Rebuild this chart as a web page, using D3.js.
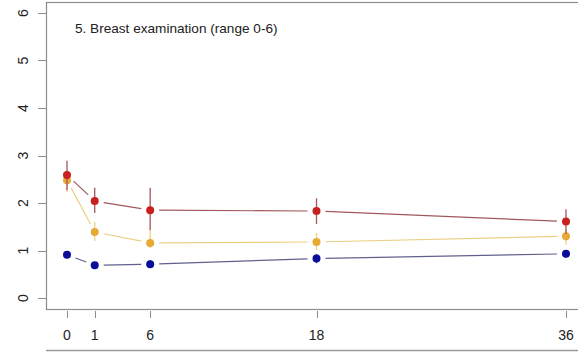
<!DOCTYPE html>
<html>
<head>
<meta charset="utf-8">
<script src="https://cdn.jsdelivr.net/npm/d3@7"></script>
<style>
  body { margin: 0; background: #fff; }
  svg text { font-family: "Liberation Sans", Arial, sans-serif; fill: #222; }
</style>
</head>
<body>
<div id="chart"></div>
<script>
// months of follow-up (labels) and where they sit on the axis
var timeLabels = ["0", "1", "6", "18", "36"];
var timePos = [0, 2, 6, 18, 36];
var yTicks = [0, 1, 2, 3, 4, 5, 6];

// mean score and error bar ends per group
var redMean = [2.59, 2.04, 1.85, 1.83, 1.61];
var redLow = [2.27, 1.79, 1.43, 1.56, 1.35];
var redHigh = [2.89, 2.32, 2.32, 2.10, 1.87];

var yellowMean = [2.48, 1.39, 1.16, 1.18, 1.30];
var yellowLow = [2.23, 1.20, 1.05, 1.01, 1.12];
var yellowHigh = [2.70, 1.60, 1.45, 1.37, 1.45];

var blueMean = [0.91, 0.69, 0.71, 0.83, 0.93];
var blueLow = [0.85, 0.64, 0.64, 0.73, 0.85];
var blueHigh = [0.97, 0.75, 0.80, 0.93, 1.00];

var title = "5. Breast examination (range 0-6)";

var W = 578, H = 352;
var box = { left: 46, top: 2, right: 590, bottom: 309 };

var svg = d3.select("#chart").append("svg")
    .attr("width", W)
    .attr("height", H);

var x = d3.scaleLinear().domain([0, 36]).range([67, 566]);
var y = d3.scaleLinear().domain([0, 6]).range([298, 13]);

// plot frame
svg.append("rect")
    .attr("x", box.left + 0.5).attr("y", box.top + 0.5)
    .attr("width", box.right - box.left).attr("height", box.bottom - box.top)
    .attr("fill", "none").attr("stroke", "#8c8c8c").attr("stroke-width", 1.2);

// top of the next panel peeking in at the bottom
svg.append("line")
    .attr("x1", box.left).attr("x2", W)
    .attr("y1", 350.5).attr("y2", 350.5)
    .attr("stroke", "#9a9a9a").attr("stroke-width", 1.5);

// y axis (R style: ticks outside, rotated labels)
var yAxis = svg.append("g");
yAxis.selectAll("line").data(yTicks).enter().append("line")
    .attr("x1", 38).attr("x2", box.left)
    .attr("y1", function(d) { return Math.round(y(d)) + 0.5; })
    .attr("y2", function(d) { return Math.round(y(d)) + 0.5; })
    .attr("stroke", "#8c8c8c");
yAxis.selectAll("text").data(yTicks).enter().append("text")
    .attr("transform", function(d) { return "translate(28," + y(d) + ") rotate(-90)"; })
    .attr("text-anchor", "middle")
    .attr("font-size", 14)
    .text(function(d) { return d; });

// x axis
var xAxis = svg.append("g");
xAxis.selectAll("line").data(timePos).enter().append("line")
    .attr("x1", function(d) { return Math.round(x(d)) + 0.5; })
    .attr("x2", function(d) { return Math.round(x(d)) + 0.5; })
    .attr("y1", box.bottom + 2).attr("y2", box.bottom + 9)
    .attr("stroke", "#8c8c8c");
xAxis.selectAll("text").data(timePos).enter().append("text")
    .attr("x", function(d) { return x(d); })
    .attr("y", 340)
    .attr("text-anchor", "middle")
    .attr("font-size", 14)
    .text(function(d, i) { return timeLabels[i]; });

svg.append("text")
    .attr("x", 75).attr("y", 33)
    .attr("font-size", 13.6)
    .text(title);

var groups = [
  { mean: blueMean, low: blueLow, high: blueHigh, line: "#60608e", dot: "#0c0c9a" },
  { mean: yellowMean, low: yellowLow, high: yellowHigh, line: "#ebd084", dot: "#e8a935" },
  { mean: redMean, low: redLow, high: redHigh, line: "#a0585c", dot: "#c8201e" }
];

var gap = 9;
groups.forEach(function(g) {
  var pts = timePos.map(function(t, i) { return [x(t), y(g.mean[i])]; });
  var segs = d3.pairs(pts);
  var gg = svg.append("g");

  // connecting lines with gaps around the points (type = "b")
  gg.selectAll(".seg").data(segs).enter().append("line")
      .attr("class", "seg")
      .each(function(s) {
        var dx = s[1][0] - s[0][0], dy = s[1][1] - s[0][1];
        var len = Math.sqrt(dx * dx + dy * dy);
        var ux = dx / len, uy = dy / len;
        d3.select(this)
          .attr("x1", s[0][0] + ux * gap).attr("y1", s[0][1] + uy * gap)
          .attr("x2", s[1][0] - ux * gap).attr("y2", s[1][1] - uy * gap);
      })
      .attr("stroke", g.line).attr("stroke-width", 1.2);

  // error bars
  gg.selectAll(".err").data(timePos).enter().append("line")
      .attr("class", "err")
      .attr("x1", function(d) { return x(d); })
      .attr("x2", function(d) { return x(d); })
      .attr("y1", function(d, i) { return y(g.low[i]); })
      .attr("y2", function(d, i) { return y(g.high[i]); })
      .attr("stroke", g.line).attr("stroke-width", 1.3);

  gg.selectAll("circle").data(timePos).enter().append("circle")
      .attr("cx", function(d) { return x(d); })
      .attr("cy", function(d, i) { return y(g.mean[i]); })
      .attr("r", 4)
      .attr("fill", g.dot);
});
</script>
</body>
</html>
